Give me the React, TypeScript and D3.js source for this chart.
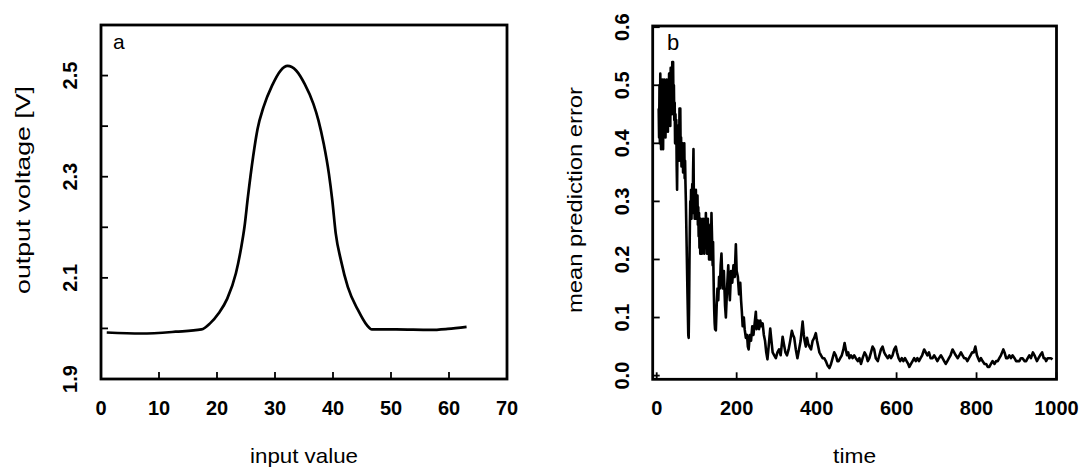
import React from "react";
import * as d3 from "d3";

// ---------- Panel a data ----------
const inputValues = [0.99, 6.93, 12.87, 17.32, 18.8, 20.29, 21.77, 23.26, 24.14, 24.74, 25.33, 26.22, 27.0, 28.0, 29.49, 30.97, 32.16, 33.64, 35.13, 36.62, 37.5, 38.4, 39.29, 39.88, 40.47, 41.36, 42.55, 44.33, 45.81, 46.7, 50.86, 56.8, 59.78, 63.03];
const outputVoltage = [1.992, 1.990, 1.9935, 1.998, 2.010, 2.030, 2.059, 2.109, 2.158, 2.201, 2.260, 2.339, 2.395, 2.437, 2.480, 2.510, 2.519, 2.510, 2.483, 2.444, 2.411, 2.365, 2.306, 2.253, 2.188, 2.135, 2.082, 2.036, 2.007, 1.998, 1.998, 1.997, 1.999, 2.003];
const aXTicks = [0, 10, 20, 30, 40, 50, 60, 70];
const aYTicks = [1.9, 2.0, 2.1, 2.2, 2.3, 2.4, 2.5];
const aYLabels = [1.9, 2.1, 2.3, 2.5];

// ---------- Panel b data ----------
const timeSteps = [
  5, 6, 7, 8, 9, 10, 11, 12, 13, 14,
  15, 16, 17, 18, 19, 20, 21, 22, 23, 24,
  25, 26, 27, 28, 29, 30, 31, 32, 33, 34,
  35, 36, 37, 38, 39, 40, 41, 42, 43, 44,
  45, 46, 47, 48, 49, 50, 51, 52, 53, 54,
  55, 56, 57, 58, 59, 60, 61, 62, 63, 64,
  65, 66, 67, 68, 69, 70, 71, 72, 73, 75,
  77, 79, 80, 81, 82, 83, 84, 85, 86, 87,
  88, 89, 90, 91, 92, 93, 94, 95, 96, 97,
  98, 99, 100, 101, 102, 103, 104, 105, 106, 107,
  108, 109, 110, 111, 112, 113, 114, 115, 116, 117,
  118, 119, 120, 121, 122, 123, 124, 125, 126, 127,
  128, 129, 130, 131, 132, 133, 134, 135, 136, 137,
  138, 139, 140, 141, 142, 143, 144, 145, 146, 148,
  150, 152, 154, 156, 158, 160, 162, 165, 168, 171,
  173, 176, 179, 181, 183, 186, 189, 192, 195, 198,
  200, 203, 206, 209, 211, 213, 215, 218, 220, 223,
  226, 228, 230, 233, 236, 239, 242, 245, 248, 250,
  253, 256, 259, 262, 265, 268, 271, 274, 277, 280,
  284, 287, 290, 294, 298, 302, 306, 310, 315, 318,
  322, 326, 330, 334, 338, 341, 344, 348, 352, 356,
  360, 365, 368, 370, 373, 376, 379, 382, 386, 390,
  394, 398, 401, 404, 407, 411, 415, 419, 423, 427,
  432, 436, 440, 444, 448, 452, 455, 459, 463, 467,
  470, 473, 476, 479, 482, 486, 490, 494, 498, 503,
  507, 511, 515, 520, 524, 528, 532, 536, 540, 544,
  548, 553, 557, 561, 565, 569, 573, 578, 582, 586,
  590, 594, 598, 601, 605, 609, 613, 617, 621, 625,
  629, 632, 636, 640, 644, 648, 652, 656, 660, 664,
  669, 673, 677, 681, 685, 690, 694, 698, 702, 706,
  711, 715, 719, 723, 727, 731, 735, 740, 744, 748,
  753, 757, 761, 765, 769, 773, 777, 781, 785, 789,
  793, 797, 801, 804, 807, 811, 815, 820, 824, 828,
  832, 836, 840, 845, 849, 853, 857, 861, 864, 867,
  870, 874, 878, 882, 886, 890, 895, 899, 903, 907,
  911, 915, 920, 924, 928, 932, 936, 941, 945, 948,
  951, 955, 959, 964, 968, 971, 974, 978, 982, 986,
  990,
];
const predError = [
  0.46, 0.41, 0.50, 0.40, 0.52, 0.43, 0.39, 0.49, 0.41, 0.51,
  0.45, 0.39, 0.48, 0.42, 0.51, 0.44, 0.50, 0.41, 0.47, 0.43,
  0.51, 0.45, 0.49, 0.42, 0.50, 0.44, 0.52, 0.46, 0.50, 0.43,
  0.53, 0.47, 0.51, 0.45, 0.54, 0.48, 0.54, 0.46, 0.50, 0.44,
  0.47, 0.40, 0.45, 0.41, 0.44, 0.36, 0.32, 0.40, 0.43, 0.38,
  0.42, 0.37, 0.46, 0.40, 0.46, 0.38, 0.41, 0.36, 0.40, 0.37,
  0.40, 0.35, 0.39, 0.36, 0.40, 0.34, 0.37, 0.33, 0.30, 0.22,
  0.14, 0.07, 0.065, 0.12, 0.20, 0.26, 0.30, 0.28, 0.32, 0.27,
  0.31, 0.33, 0.28, 0.35, 0.39, 0.30, 0.32, 0.27, 0.31, 0.29,
  0.32, 0.27, 0.30, 0.28, 0.31, 0.26, 0.29, 0.24, 0.28, 0.22,
  0.26, 0.21, 0.27, 0.23, 0.26, 0.21, 0.25, 0.22, 0.27, 0.23,
  0.26, 0.21, 0.25, 0.27, 0.22, 0.28, 0.24, 0.26, 0.21, 0.25,
  0.27, 0.22, 0.26, 0.20, 0.24, 0.21, 0.25, 0.20, 0.23, 0.28,
  0.25, 0.22, 0.19, 0.23, 0.18, 0.14, 0.11, 0.09, 0.08, 0.078,
  0.12, 0.15, 0.13, 0.17, 0.15, 0.19, 0.21, 0.15, 0.18, 0.12,
  0.10, 0.15, 0.19, 0.15, 0.13, 0.18, 0.16, 0.19, 0.17, 0.226,
  0.18, 0.17, 0.14, 0.16, 0.13, 0.11, 0.085, 0.10, 0.08, 0.065,
  0.07, 0.05, 0.045, 0.07, 0.06, 0.085, 0.07, 0.09, 0.11, 0.08,
  0.095, 0.08, 0.095, 0.085, 0.09, 0.07, 0.06, 0.04, 0.028, 0.05,
  0.081, 0.06, 0.04, 0.035, 0.03, 0.04, 0.045, 0.035, 0.067, 0.055,
  0.04, 0.035, 0.045, 0.06, 0.077, 0.07, 0.065, 0.045, 0.03, 0.045,
  0.06, 0.093, 0.07, 0.06, 0.05, 0.065, 0.055, 0.05, 0.045, 0.06,
  0.065, 0.073, 0.06, 0.05, 0.04, 0.035, 0.03, 0.03, 0.025, 0.018,
  0.013, 0.02, 0.03, 0.04, 0.035, 0.025, 0.025, 0.03, 0.035, 0.045,
  0.056, 0.045, 0.035, 0.04, 0.03, 0.035, 0.03, 0.035, 0.03, 0.025,
  0.03, 0.02, 0.03, 0.04, 0.035, 0.025, 0.03, 0.04, 0.05, 0.045,
  0.03, 0.025, 0.035, 0.045, 0.05, 0.04, 0.035, 0.03, 0.035, 0.03,
  0.035, 0.045, 0.05, 0.04, 0.03, 0.025, 0.03, 0.025, 0.03, 0.025,
  0.02, 0.015, 0.02, 0.025, 0.03, 0.025, 0.03, 0.025, 0.03, 0.035,
  0.045, 0.04, 0.035, 0.04, 0.03, 0.03, 0.035, 0.03, 0.025, 0.03,
  0.035, 0.03, 0.025, 0.02, 0.025, 0.03, 0.035, 0.045, 0.04, 0.035,
  0.03, 0.035, 0.04, 0.035, 0.03, 0.03, 0.025, 0.03, 0.035, 0.04,
  0.04, 0.05, 0.035, 0.03, 0.025, 0.03, 0.025, 0.02, 0.02, 0.015,
  0.015, 0.02, 0.025, 0.02, 0.025, 0.025, 0.03, 0.035, 0.04, 0.045,
  0.04, 0.03, 0.03, 0.035, 0.03, 0.035, 0.03, 0.025, 0.025, 0.025,
  0.03, 0.03, 0.025, 0.025, 0.03, 0.035, 0.03, 0.04, 0.035, 0.03,
  0.025, 0.03, 0.035, 0.04, 0.03, 0.03, 0.025, 0.03, 0.03, 0.03,
  0.028,
];
const bXTicks = [0, 200, 400, 600, 800, 1000];
const bYTicks = [0, 0.1, 0.2, 0.3, 0.4, 0.5, 0.6];

const FONT = "'Liberation Sans', Arial, Helvetica, sans-serif";

export default function App() {
  const W = 1082, H = 472;

  // Panel a
  const aBox = { left: 101, right: 507, top: 25, bottom: 379 };
  const ax = d3.scaleLinear().domain([0, 70]).range([aBox.left, aBox.right]);
  const ay = d3.scaleLinear().domain([1.9, 2.6]).range([aBox.bottom, aBox.top]);
  const aLine = d3
    .line<number>()
    .x((_, i) => ax(inputValues[i]))
    .y((d) => ay(d))
    .curve(d3.curveMonotoneX);

  // Panel b
  const bBox = { left: 652.7, right: 1056.5, top: 26, bottom: 379.3 };
  const bx = d3.scaleLinear().domain([-10, 1000]).range([bBox.left, bBox.right]);
  const by = d3.scaleLinear().domain([0, 0.6]).range([375.6, 27.2]);
  const bLine = d3
    .line<number>()
    .x((_, i) => bx(timeSteps[i]))
    .y((d) => by(d));

  const tickLen = 7;
  const tickFont = { fontFamily: FONT, fontSize: 20, fontWeight: 700 as const };
  const titleFont = { fontFamily: FONT, fontSize: 21 };

  return (
    <svg
      width={W}
      height={H}
      style={{ position: "absolute", left: 0, top: 0, background: "#fff" }}
    >
      <rect x={0} y={0} width={W} height={H} fill="#fff" />
      {/* ---------- Panel a ---------- */}
      <path d={aLine(outputVoltage) || ""} fill="none" stroke="#000" strokeWidth={2.7} />
      {aXTicks.map((t) => (
        <g key={"ax" + t}>
          <line x1={ax(t)} x2={ax(t)} y1={aBox.bottom} y2={aBox.bottom - tickLen} stroke="#000" strokeWidth={1.8} />
          <text x={ax(t)} y={415} textAnchor="middle" {...tickFont}>{t}</text>
        </g>
      ))}
      {aYTicks.map((t) => (
        <line key={"ay" + t} x1={aBox.left} x2={aBox.left + tickLen} y1={ay(t)} y2={ay(t)} stroke="#000" strokeWidth={1.8} />
      ))}
      {aYLabels.map((t) => (
        <text key={"ayl" + t} transform={`translate(${aBox.left - 24},${ay(t)}) rotate(-90)`} textAnchor="middle" {...tickFont}>
          {t.toFixed(1)}
        </text>
      ))}
      <rect x={aBox.left} y={aBox.top} width={aBox.right - aBox.left} height={aBox.bottom - aBox.top} fill="none" stroke="#000" strokeWidth={2.8} />
      <text x={(aBox.left + aBox.right) / 2} y={463} textAnchor="middle" textLength={108} lengthAdjust="spacingAndGlyphs" {...titleFont}>input value</text>
      <text transform={`translate(30,190) rotate(-90)`} textAnchor="middle" textLength={208} lengthAdjust="spacingAndGlyphs" {...titleFont}>output voltage [V]</text>
      <text x={113} y={49} fontFamily={FONT} fontSize={21}>a</text>

      {/* ---------- Panel b ---------- */}
      <path d={bLine(predError) || ""} fill="none" stroke="#000" strokeWidth={2.6} strokeLinejoin="round" />
      {bXTicks.map((t) => (
        <g key={"bx" + t}>
          <line x1={bx(t)} x2={bx(t)} y1={bBox.bottom} y2={bBox.bottom - tickLen} stroke="#000" strokeWidth={1.8} />
          <text x={bx(t)} y={415} textAnchor="middle" {...tickFont}>{t}</text>
        </g>
      ))}
      {bYTicks.map((t) => (
        <g key={"by" + t}>
          <line x1={bBox.left} x2={bBox.left + tickLen} y1={by(t)} y2={by(t)} stroke="#000" strokeWidth={1.8} />
          <text transform={`translate(${bBox.left - 24},${by(t)}) rotate(-90)`} textAnchor="middle" {...tickFont}>
            {t.toFixed(1)}
          </text>
        </g>
      ))}
      <rect x={bBox.left} y={bBox.top} width={bBox.right - bBox.left} height={bBox.bottom - bBox.top} fill="none" stroke="#000" strokeWidth={2.8} />
      <text x={(bBox.left + bBox.right) / 2} y={463} textAnchor="middle" textLength={43} lengthAdjust="spacingAndGlyphs" {...titleFont}>time</text>
      <text transform={`translate(582,200) rotate(-90)`} textAnchor="middle" textLength={226} lengthAdjust="spacingAndGlyphs" {...titleFont}>mean prediction error</text>
      <text x={667} y={50} fontFamily={FONT} fontSize={22}>b</text>
    </svg>
  );
}
